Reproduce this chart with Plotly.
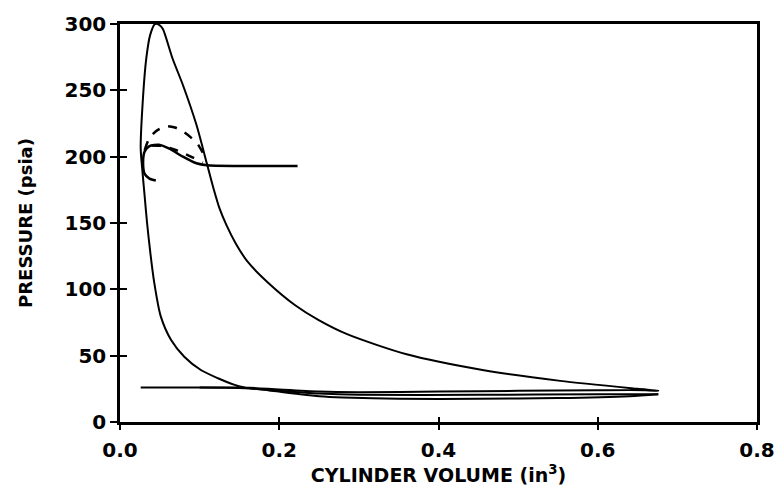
import plotly.graph_objects as go

# Compression -> combustion/expansion -> exhaust (volume in^3, pressure psia)
cycle_v = [0.676, 0.64, 0.55, 0.45, 0.35, 0.28, 0.25, 0.21, 0.186, 0.157, 0.144, 0.123, 0.102,
           0.081, 0.064, 0.051, 0.043, 0.038, 0.034, 0.031, 0.028, 0.026, 0.028, 0.033, 0.038,
           0.044, 0.050, 0.054, 0.066, 0.079, 0.096, 0.109, 0.117, 0.125, 0.134, 0.145, 0.160,
           0.186, 0.220, 0.249, 0.286, 0.36, 0.457, 0.553, 0.65, 0.676,
           0.66, 0.6, 0.5, 0.4, 0.3, 0.25, 0.2, 0.157, 0.10, 0.026]
cycle_p = [21, 19.5, 18, 17.5, 17.5, 18.5, 19.5, 22, 24, 26, 28, 33, 39,
           49, 62, 80, 105, 128, 150, 170, 190, 206, 236, 274, 292,
           300, 299, 296, 274, 254, 224, 195, 177, 161, 148, 135, 121,
           105, 88, 77, 66, 51, 39, 31, 25, 23.5,
           24, 24, 23.5, 23, 22.5, 23, 24.5, 26, 26, 26]

# Intake stroke
intake_v = [0.10, 0.157, 0.2, 0.25, 0.3, 0.45, 0.6, 0.676]
intake_p = [26, 25.5, 23.5, 21.5, 20.5, 20.5, 21, 21]

# Solid hook / plateau near 200 psia
hook_v = [0.045, 0.037, 0.031, 0.029, 0.031, 0.037, 0.049, 0.062, 0.079, 0.096, 0.109, 0.15, 0.223]
hook_p = [182, 183.5, 187, 196, 204, 208, 209, 206, 200, 195, 193.5, 193, 193]

# Dashed arcs
dash1_v = [0.031, 0.037, 0.047, 0.058, 0.069, 0.079, 0.090, 0.098, 0.104]
dash1_p = [205, 214, 220, 223, 222, 219, 214, 209, 203]
dash2_v = [0.040, 0.054, 0.068, 0.080, 0.091, 0.104]
dash2_p = [208.5, 208, 205.5, 202.5, 199.5, 195.5]

x_ticks = [0.0, 0.2, 0.4, 0.6, 0.8]
x_labels = ["0.0", "0.2", "0.4", "0.6", "0.8"]
y_ticks = [0, 50, 100, 150, 200, 250, 300]

fig = go.Figure()
for xs, ys, w, d in [(cycle_v, cycle_p, 2, "solid"), (intake_v, intake_p, 2, "solid"),
                     (hook_v, hook_p, 2.5, "solid"), (dash1_v, dash1_p, 2.5, "dash"),
                     (dash2_v, dash2_p, 2.5, "dash")]:
    fig.add_trace(go.Scatter(x=xs, y=ys, mode="lines",
                             line=dict(color="black", width=w, dash=d, shape="spline", smoothing=0.7),
                             cliponaxis=False, showlegend=False))

tick_font = dict(family="DejaVu Sans, sans-serif", size=20, color="black", weight="bold")
xt_font = dict(family="DejaVu Sans, sans-serif", size=19, color="black", weight="bold")
yt_font = dict(family="DejaVu Sans, sans-serif", size=18, color="black", weight="bold")

fig.update_layout(
    width=775, height=501,
    margin=dict(l=120, r=18, t=24, b=79),
    paper_bgcolor="white", plot_bgcolor="white",
    xaxis=dict(range=[0, 0.8], tickvals=x_ticks, ticktext=x_labels, ticks="outside", ticklen=5,
               tickwidth=1.5, tickcolor="black", showline=True, linecolor="black", linewidth=2.5,
               mirror=True, showgrid=False, zeroline=False, tickfont=tick_font, automargin=False,
               ticklabelstandoff=3,
               title=dict(text="CYLINDER VOLUME (in<sup>3</sup>)", font=xt_font, standoff=4)),
    yaxis=dict(range=[0, 300], tickvals=y_ticks, ticks="outside", ticklen=7,
               tickwidth=1.5, tickcolor="black", showline=True, linecolor="black", linewidth=2.5,
               mirror=True, showgrid=False, zeroline=False, tickfont=tick_font, automargin=False,
               title=dict(text="PRESSURE (psia)", font=yt_font, standoff=28)),
    xaxis2=dict(range=[0, 0.8], overlaying="x", tickvals=x_ticks, ticks="inside", ticklen=5,
                tickwidth=1.5, tickcolor="black", showticklabels=False, showgrid=False,
                zeroline=False, showline=False, side="bottom", anchor="y", automargin=False),
    yaxis2=dict(range=[0, 300], overlaying="y", tickvals=y_ticks, ticks="inside", ticklen=7,
                tickwidth=1.5, tickcolor="black", showticklabels=False, showgrid=False,
                zeroline=False, showline=False, side="left", anchor="x", automargin=False),
)
# invisible trace so the overlay tick axes are drawn
fig.add_trace(go.Scatter(x=[0], y=[0], xaxis="x2", yaxis="y2", mode="markers",
                         marker=dict(opacity=0), showlegend=False, hoverinfo="skip"))
fig.write_html("out.html", config={"displayModeBar": False},
               post_script="document.body.style.margin='0';")
